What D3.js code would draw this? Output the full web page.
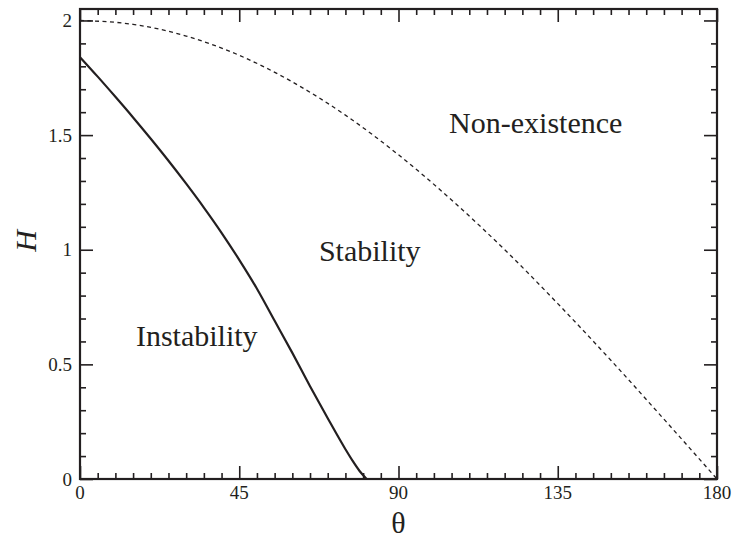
<!DOCTYPE html>
<html>
<head>
<meta charset="utf-8">
<script src="https://cdn.jsdelivr.net/npm/d3@7"></script>
</head>
<body style="margin:0">
<svg id="chart" width="733" height="545"></svg>
<script>
// stability boundary (solid)
const thetaSolid = [0, 5, 10, 15, 20, 25, 30, 35, 40, 45, 50, 55, 60, 65, 70, 75, 77, 79, 81]
const hSolid = [1.84, 1.755, 1.667, 1.577, 1.484, 1.388, 1.288, 1.184, 1.074, 0.956, 0.83, 0.69, 0.55, 0.405, 0.265, 0.13, 0.08, 0.035, 0]

// existence boundary (dashed)
const thetaDashed = [0, 15, 30, 45, 60, 75, 90, 105, 120, 135, 150, 165, 180]
const hDashed = [2.0, 1.983, 1.932, 1.848, 1.732, 1.587, 1.414, 1.217, 1.0, 0.765, 0.518, 0.261, 0]

const xMajor = [0, 45, 90, 135, 180]
const xLabels = ["0", "45", "90", "135", "180"]
const yMajor = [0, 0.5, 1, 1.5, 2]
const yLabels = ["0", "0.5", "1", "1.5", "2"]

const regionNames = ["Instability", "Stability", "Non-existence"]
const regionTheta = [15.8, 67.5, 104.3]
const regionH = [0.58, 0.95, 1.51]

const ink = "#231f20"

const svg = d3.select("#chart")
const mLeft = 80, mRight = 717, mTop = 9, mBottom = 479

const x = d3.scaleLinear().domain([0, 180]).range([mLeft, mRight])
const y = d3.scaleLinear().domain([0, 2.05]).range([mBottom, mTop])

const xMinor = d3.range(0, 181, 5).filter(d => d % 45 !== 0)
const yMinor = d3.range(0, 2.05, 0.1).map(d => +d.toFixed(1)).filter(d => Math.abs(d * 2 - Math.round(d * 2)) > 1e-6)

// tick marks only from d3.axis, labels drawn as plain text below
function ticksOnly(g) {
    g.select(".domain").remove()
    g.selectAll("text").remove()
    g.selectAll("line").attr("stroke", ink).attr("stroke-width", 1.6)
}

const axes = [
    [d3.axisBottom, `translate(0,${mBottom})`, x, xMajor, 13],
    [d3.axisBottom, `translate(0,${mBottom})`, x, xMinor, 6],
    [d3.axisTop, `translate(0,${mTop})`, x, xMajor, 13],
    [d3.axisTop, `translate(0,${mTop})`, x, xMinor, 6],
    [d3.axisLeft, `translate(${mLeft},0)`, y, yMajor, 13],
    [d3.axisLeft, `translate(${mLeft},0)`, y, yMinor, 6],
    [d3.axisRight, `translate(${mRight},0)`, y, yMajor, 13],
    [d3.axisRight, `translate(${mRight},0)`, y, yMinor, 6]
]
axes.forEach(a => {
    svg.append("g").attr("transform", a[1])
        .call(a[0](a[2]).tickValues(a[3]).tickSize(-a[4]).tickFormat(""))
        .call(ticksOnly)
})

//frame
svg.append("rect")
    .attr("x", mLeft).attr("y", mTop)
    .attr("width", mRight - mLeft).attr("height", mBottom - mTop)
    .attr("fill", "none").attr("stroke", ink).attr("stroke-width", 2.2)

//tick labels
svg.selectAll(".xlab").data(xMajor).enter().append("text")
    .attr("class", "xlab")
    .attr("font-family", "Liberation Serif").attr("font-size", 19).attr("fill", ink)
    .attr("x", d => x(d)).attr("y", mBottom + 20)
    .attr("text-anchor", "middle")
    .text((d, i) => xLabels[i])

svg.selectAll(".ylab").data(yMajor).enter().append("text")
    .attr("class", "ylab")
    .attr("font-family", "Liberation Serif").attr("font-size", 19).attr("fill", ink)
    .attr("x", mLeft - 8).attr("y", d => y(d) + 6.5)
    .attr("text-anchor", "end")
    .text((d, i) => yLabels[i])

const line = d3.line().x(d => x(d[0])).y(d => y(d[1])).curve(d3.curveMonotoneX)

svg.append("path")
    .attr("d", line(thetaDashed.map((t, i) => [t, hDashed[i]])))
    .attr("fill", "none").attr("stroke", ink).attr("stroke-width", 1.3)
    .attr("stroke-dasharray", "4,3.5")

svg.append("path")
    .attr("d", line(thetaSolid.map((t, i) => [t, hSolid[i]])))
    .attr("fill", "none").attr("stroke", ink).attr("stroke-width", 2.2)

//region names
svg.selectAll(".region").data(regionNames).enter().append("text")
    .attr("class", "region")
    .attr("font-family", "Liberation Serif").attr("font-size", 30).attr("fill", ink)
    .attr("x", (d, i) => x(regionTheta[i]))
    .attr("y", (d, i) => y(regionH[i]))
    .text(d => d)

//axis titles
svg.append("text")
    .attr("font-family", "Liberation Serif").attr("font-size", 30).attr("fill", ink)
    .attr("x", (mLeft + mRight) / 2).attr("y", 533)
    .attr("text-anchor", "middle")
    .text("θ")

svg.append("text")
    .attr("font-family", "Liberation Serif").attr("font-size", 30).attr("font-style", "italic").attr("fill", ink)
    .attr("transform", `translate(36,241) rotate(-90)`)
    .attr("text-anchor", "middle")
    .text("H")
</script>
</body>
</html>
